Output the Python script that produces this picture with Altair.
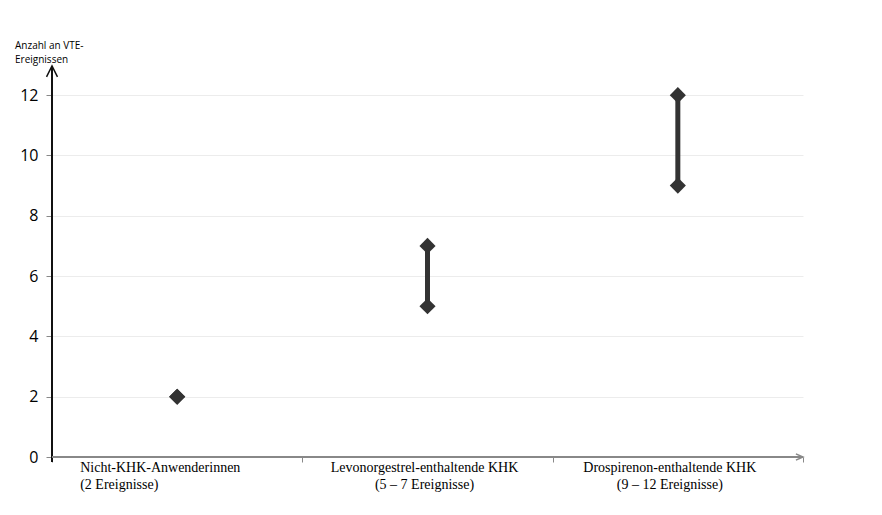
import altair as alt
import pandas as pd

categories = ["Nicht-KHK-Anwenderinnen", "Levonorgestrel-enthaltende KHK", "Drospirenon-enthaltende KHK"]
sublabels = ["(2 Ereignisse)", "(5 – 7 Ereignisse)", "(9 – 12 Ereignisse)"]
low = [2, 5, 9]
high = [2, 7, 12]
yticks = [0, 2, 4, 6, 8, 10, 12]

W, H = 751, 392
df = pd.DataFrame({"cat": categories, "low": low, "high": high})
pts = pd.DataFrame({"cat": categories * 2, "v": low + high})
lab = pd.DataFrame({"cat": categories, "lines": [[c, s] for c, s in zip(categories, sublabels)]})

xs = alt.Scale(domain=categories, paddingInner=0, paddingOuter=0)
ys = alt.Scale(domain=[0, 13], nice=False)

xaxis = alt.Axis(title=None, labels=False, domain=False, tickBand="extent",
                 tickColor="#888", tickSize=5, tickWidth=1, grid=False)
yaxis = alt.Axis(title=None, values=yticks, grid=True, gridColor="#ececec", gridWidth=1,
                 domain=False, tickColor="#888", tickSize=6, labelFont="Open Sans",
                 labelFontSize=16, labelColor="#000", labelPadding=8)

rules = alt.Chart(df).mark_rule(color="#333", strokeWidth=5).encode(
    x=alt.X("cat:N", scale=xs, axis=xaxis, sort=categories),
    y=alt.Y("low:Q", scale=ys, axis=yaxis),
    y2="high:Q",
)

points = alt.Chart(pts).mark_point(shape="diamond", filled=True, color="#333", size=260, opacity=1).encode(
    x=alt.X("cat:N", sort=categories),
    y=alt.Y("v:Q"),
)

yline = alt.Chart(pd.DataFrame({"a": [0]})).mark_rule(color="#111", strokeWidth=2).encode(
    x=alt.value(0), y=alt.value(H + 5), y2=alt.value(2))
xline = alt.Chart(pd.DataFrame({"a": [0]})).mark_rule(color="#888", strokeWidth=2).encode(
    x=alt.value(0), x2=alt.value(W), y=alt.value(H))
yarrow = alt.Chart(pd.DataFrame({"a": [0]})).mark_point(
    shape="M-0.5,1L0,0L0.5,1", filled=False, color="#111", strokeWidth=1.5, size=480, opacity=1
).encode(x=alt.value(0), y=alt.value(1))
xarrow = alt.Chart(pd.DataFrame({"a": [0]})).mark_point(
    shape="M-1,-0.45L0,0L-1,0.45", filled=False, color="#888", strokeWidth=1.5, size=200, opacity=1
).encode(x=alt.value(W), y=alt.value(H))

label_dx = [-97, -3, -8]
label_align = ["left", "center", "center"]
lab_layers = [
    alt.Chart(lab).transform_filter(alt.datum.cat == c).mark_text(
        align=a, baseline="top", font="Liberation Serif", fontSize=14, lineHeight=17, color="#000", dx=d
    ).encode(x=alt.X("cat:N", sort=categories), y=alt.value(H + 4), text="lines")
    for c, a, d in zip(categories, label_align, label_dx)
]

title = alt.Chart(pd.DataFrame({"t": [["Anzahl an VTE-", "Ereignissen"]]})).mark_text(
    align="left", baseline="top", font="Open Sans", fontSize=10, lineHeight=14, color="#000"
).encode(x=alt.value(-37), y=alt.value(-24), text="t")

chart = alt.layer(rules, points, yline, xline, yarrow, xarrow, *lab_layers, title).properties(
    width=W, height=H, autosize=alt.AutoSizeParams(type="none"),
    padding={"left": 44, "top": 57, "right": 70, "bottom": 50},
    background="white",
).configure_view(strokeWidth=0, stroke="transparent")

chart.save("out.html", embed_options={"renderer": "svg", "actions": False})
